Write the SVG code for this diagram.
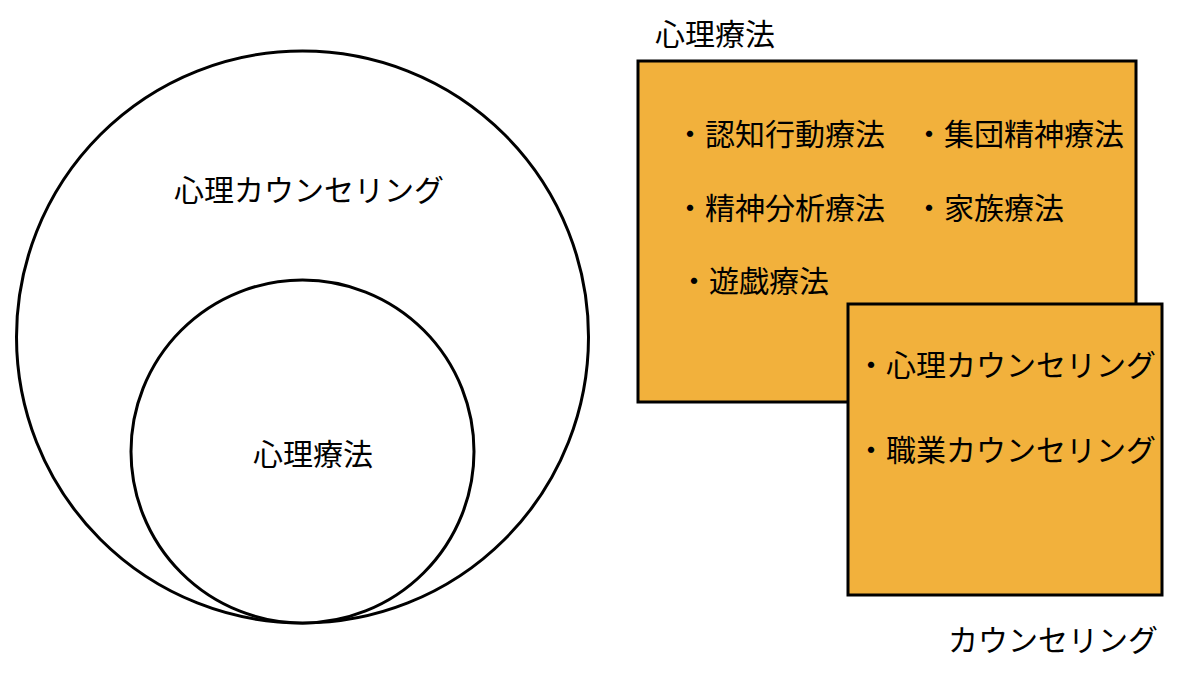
<svg xmlns="http://www.w3.org/2000/svg" width="1200" height="675" viewBox="0 0 1200 675">
<style>
.t{font-family:"Noto Sans CJK JP","Noto Sans CJK SC",sans-serif;font-size:30px;fill:#000}
.c{fill:#fff;stroke:#000;stroke-width:3}
.r{fill:#F2B13C;stroke:#000;stroke-width:3}
</style>
<rect width="1200" height="675" fill="#fff"/>
<g id="outer-circle">
<circle class="c" cx="302.5" cy="337" r="286"/>
<text class="t" x="309" y="201" text-anchor="middle">心理カウンセリング</text>
</g>
<g id="inner-circle">
<circle class="c" cx="302.5" cy="451.5" r="171.5"/>
<text class="t" x="313" y="465" text-anchor="middle">心理療法</text>
</g>
<g id="psychotherapy-box">
<text class="t" x="655" y="45">心理療法</text>
<rect class="r" x="638" y="61" width="498" height="341"/>
<text class="t" x="675" y="145">・認知行動療法</text>
<text class="t" x="914" y="145">・集団精神療法</text>
<text class="t" x="675" y="219">・精神分析療法</text>
<text class="t" x="914" y="219">・家族療法</text>
<text class="t" x="679" y="292">・遊戯療法</text>
</g>
<g id="counseling-box">
<rect class="r" x="848" y="304" width="314" height="291"/>
<text class="t" x="856" y="376">・心理カウンセリング</text>
<text class="t" x="856" y="461">・職業カウンセリング</text>
<text class="t" x="948" y="651">カウンセリング</text>
</g>
<g id="connectors"></g>
</svg>
